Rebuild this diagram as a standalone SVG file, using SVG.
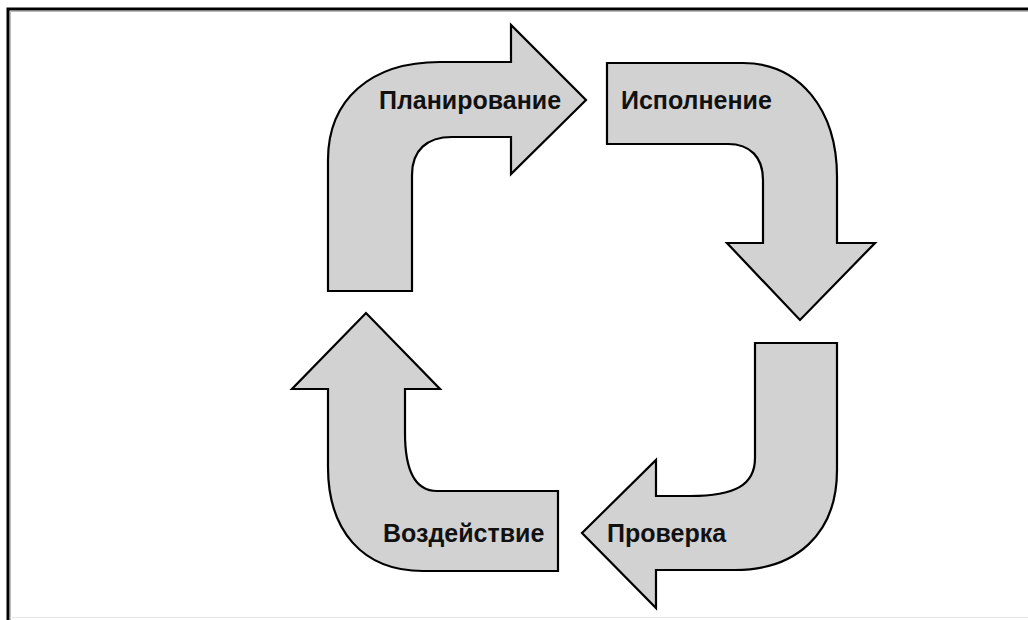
<svg xmlns="http://www.w3.org/2000/svg" width="1028" height="620" viewBox="0 0 1028 620">
<style>
.arrow{fill:#d2d2d2;stroke:#000;stroke-width:2.2;stroke-linejoin:miter}
.lbl{font-family:"Liberation Sans",Arial,sans-serif;font-weight:bold;font-size:25px;fill:#111}
</style>
<rect x="0" y="0" width="1028" height="620" fill="#fff"/>
<g id="frame">
<path d="M 8 620 L 8 9 L 1028 9" fill="none" stroke="#000" stroke-width="3"/>
<path d="M 10.5 620 L 10.5 11.5 L 1028 11.5" fill="none" stroke="#bbb" stroke-width="1"/>
<line x1="10" y1="617.5" x2="1028" y2="617.5" stroke="#e6e6e6" stroke-width="1"/>
</g>
<g id="connectors"></g>
<g id="planning">
<path class="arrow" d="M 328 291 L 328 160 C 328 100 370 62 440 62 L 511 62 L 511 25 L 586 100 L 511 174 L 511 137 L 452 137 C 427 137 412 150 412 175 L 412 291 Z"/>
<text class="lbl" x="379" y="109">Планирование</text>
</g>
<g id="execution">
<path class="arrow" d="M 607 63 L 743 63 C 800 63 837 110 837 177 L 837 243 L 875 243 L 800 320 L 727 243 L 763 243 L 763 180 C 763 157 750 144 728 144 L 607 144 Z"/>
<text class="lbl" x="621" y="109">Исполнение</text>
</g>
<g id="check">
<path class="arrow" d="M 755 343 L 837 343 L 837 470 C 837 535 795 570 735 570 L 656 570 L 656 608 L 582 533 L 656 460 L 656 496 L 690 496 C 735 496 755 485 755 458 Z"/>
<text class="lbl" x="607" y="542">Проверка</text>
</g>
<g id="action">
<path class="arrow" d="M 558 491 L 558 571 L 423 571 C 362 571 328 530 328 467 L 328 389 L 292 389 L 366 313 L 440 389 L 405 389 L 405 433 C 405 470 415 491 437 491 Z"/>
<text class="lbl" x="383" y="542">Воздействие</text>
</g>
</svg>
